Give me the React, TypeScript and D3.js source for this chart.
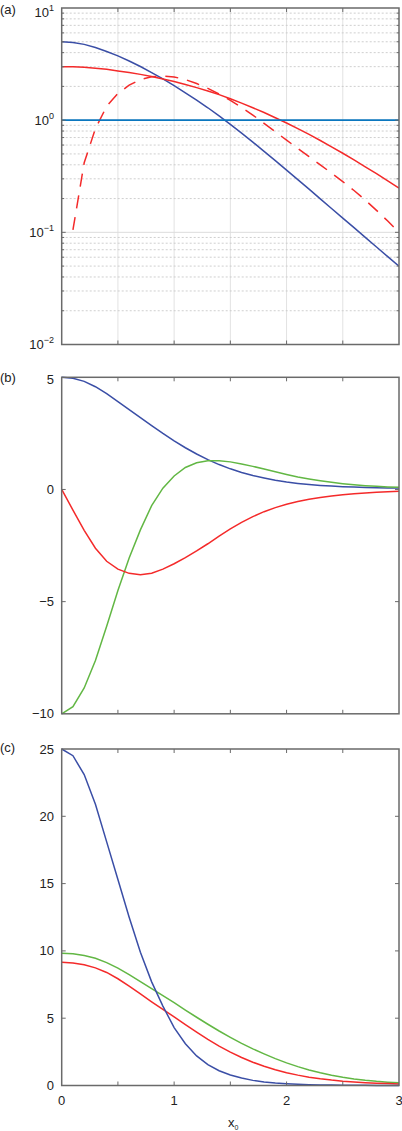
import * as d3 from "d3";

// sample positions along x0 (the curves were computed on a 0.1 grid)
const X_SAMPLES = [
  0, 0.1, 0.2, 0.3, 0.4, 0.5, 0.6, 0.7, 0.8, 0.9, 1.0,
  1.1, 1.2, 1.3, 1.4, 1.5, 1.6, 1.7, 1.8, 1.9, 2.0,
  2.1, 2.2, 2.3, 2.4, 2.5, 2.6, 2.7, 2.8, 2.9, 3.0,
];

// (a) log panel
const A_BLUE = [
  5.0, 4.93, 4.74, 4.45, 4.1, 3.74, 3.37, 3.01, 2.65, 2.33, 2.03,
  1.75, 1.51, 1.29, 1.09, 0.916, 0.766, 0.637, 0.527, 0.436, 0.359,
  0.295, 0.243, 0.199, 0.163, 0.134, 0.11, 0.0902, 0.074, 0.0607, 0.0498,
];
const A_RED = [
  3.0, 2.99, 2.96, 2.91, 2.84, 2.75, 2.66, 2.56, 2.45, 2.33, 2.21,
  2.08, 1.95, 1.82, 1.69, 1.55, 1.42, 1.29, 1.17, 1.05, 0.944,
  0.841, 0.746, 0.659, 0.579, 0.507, 0.442, 0.384, 0.333, 0.288, 0.248,
];
const A_RED_DASHED = [
  null, 0.105, 0.417, 0.841, 1.33, 1.73, 2.05, 2.3, 2.44, 2.48, 2.43,
  2.3, 2.12, 1.92, 1.71, 1.5, 1.3, 1.11, 0.938, 0.789, 0.664,
  0.56, 0.473, 0.4, 0.337, 0.283, 0.236, 0.194, 0.157, 0.126, 0.1,
];
const A_REFERENCE = 1;

// (b)
const B_BLUE = [
  5.0, 4.96, 4.82, 4.58, 4.27, 3.92, 3.56, 3.2, 2.85, 2.5, 2.17,
  1.86, 1.58, 1.33, 1.11, 0.92, 0.76, 0.62, 0.51, 0.41, 0.33,
  0.27, 0.22, 0.18, 0.15, 0.125, 0.105, 0.09, 0.078, 0.068, 0.06,
];
const B_RED = [
  0, -0.92, -1.82, -2.62, -3.2, -3.55, -3.74, -3.8, -3.73, -3.55, -3.31,
  -3.04, -2.74, -2.42, -2.08, -1.76, -1.47, -1.21, -0.99, -0.81, -0.66,
  -0.54, -0.44, -0.36, -0.29, -0.235, -0.19, -0.155, -0.125, -0.1, -0.08,
];
const B_GREEN = [
  -10, -9.68, -8.85, -7.62, -6.1, -4.5, -3.05, -1.8, -0.72, 0.06, 0.6,
  0.98, 1.19, 1.28, 1.28, 1.23, 1.14, 1.03, 0.91, 0.79, 0.67,
  0.56, 0.47, 0.39, 0.32, 0.26, 0.21, 0.17, 0.14, 0.115, 0.095,
];

// (c)
const C_BLUE = [
  25, 24.5, 23.1, 20.9, 18.1, 15.3, 12.5, 9.9, 7.7, 5.9, 4.3,
  3.1, 2.2, 1.55, 1.1, 0.78, 0.55, 0.38, 0.26, 0.18, 0.13,
  0.09, 0.06, 0.04, 0.03, 0.02, 0.015, 0.01, 0.007, 0.005, 0.003,
];
const C_RED = [
  9.15, 9.1, 8.97, 8.74, 8.4, 7.93, 7.38, 6.8, 6.22, 5.66, 5.1,
  4.53, 3.97, 3.43, 2.93, 2.48, 2.08, 1.73, 1.43, 1.17, 0.95,
  0.77, 0.62, 0.5, 0.4, 0.32, 0.26, 0.21, 0.17, 0.14, 0.12,
];
const C_GREEN = [
  9.82, 9.78, 9.66, 9.45, 9.13, 8.72, 8.24, 7.72, 7.2, 6.68, 6.15,
  5.6, 5.07, 4.55, 4.05, 3.58, 3.13, 2.72, 2.35, 2.0, 1.68,
  1.4, 1.15, 0.94, 0.76, 0.61, 0.49, 0.39, 0.31, 0.25, 0.2,
];

const X_TICKS = [0, 0.5, 1, 1.5, 2, 2.5, 3];
const X_LABELS = [0, 1, 2, 3];
const A_DECADES = [-2, -1, 0, 1];
const B_TICKS = [-10, -5, 0, 5];
const C_TICKS = [0, 5, 10, 15, 20, 25];

const BLUE = "#3a4ea6";
const RED = "#f42a2a";
const GREEN = "#62b744";
const REF_BLUE = "#0b77bf";
const FRAME = "#6a6a6a";
const FONT = "'Liberation Sans', Arial, Helvetica, sans-serif";

const W = 402;
const H = 1131;
const left = 61.7;
const right = 399;

const x = d3.scaleLinear().domain([0, 3]).range([left, right]);

const fmt = (v: number) => (v < 0 ? "\u2212" + Math.abs(v) : String(v));

function curve(values: (number | null)[], y: (v: number) => number) {
  const line = d3
    .line<number | null>()
    .defined((d) => d != null)
    .x((_, i) => x(X_SAMPLES[i]))
    .y((d) => y(d as number));
  return line(values) ?? "";
}

function Frame({ top, bottom }: { top: number; bottom: number }) {
  return (
    <g>
      {X_TICKS.slice(1, -1).map((t) => (
        <g key={t} stroke={FRAME} strokeWidth={1}>
          <line x1={x(t)} x2={x(t)} y1={bottom} y2={bottom - 4} />
          <line x1={x(t)} x2={x(t)} y1={top} y2={top + 4} />
        </g>
      ))}
      <rect
        x={left}
        y={top}
        width={right - left}
        height={bottom - top}
        fill="none"
        stroke={FRAME}
        strokeWidth={1.5}
      />
    </g>
  );
}

function PanelLabel({ text, y }: { text: string; y: number }) {
  return (
    <text x={0} y={y} fontSize={13} fontFamily={FONT} fill="#222">
      {text}
    </text>
  );
}

export default function App() {
  // panel (a)
  const aTop = 8;
  const aBottom = 344.5;
  const yA = d3.scaleLog().domain([0.01, 10]).range([aBottom, aTop]);
  const minors: number[] = [];
  A_DECADES.slice(0, -1).forEach((e) => {
    for (let k = 2; k <= 9; k++) minors.push(k * Math.pow(10, e));
  });

  // panel (b)
  const bTop = 377.3;
  const bBottom = 713.8;
  const yB = d3.scaleLinear().domain([-10, 5]).range([bBottom, bTop]);

  // panel (c)
  const cTop = 749;
  const cBottom = 1085.5;
  const yC = d3.scaleLinear().domain([0, 25]).range([cBottom, cTop]);

  return (
    <div style={{ position: "absolute", left: 0, top: 0 }}>
      <svg width={W} height={H} viewBox={`0 0 ${W} ${H}`} style={{ display: "block", background: "#fff" }}>
        <defs>
          <clipPath id="clipA">
            <rect x={left} y={aTop} width={right - left} height={aBottom - aTop} />
          </clipPath>
        </defs>

        {/* ---------- (a) ---------- */}
        <PanelLabel text="(a)" y={14} />
        <g>
          {X_TICKS.slice(1, -1).map((t) => (
            <line key={t} x1={x(t)} x2={x(t)} y1={aTop} y2={aBottom} stroke="#e2e2e2" strokeWidth={1} />
          ))}
          {minors.map((m) => (
            <line
              key={m}
              x1={left}
              x2={right}
              y1={yA(m)}
              y2={yA(m)}
              stroke="#c9c9c9"
              strokeWidth={0.9}
              strokeDasharray="2,2"
            />
          ))}
          {A_DECADES.slice(1, -1).map((e) => (
            <line
              key={e}
              x1={left}
              x2={right}
              y1={yA(Math.pow(10, e))}
              y2={yA(Math.pow(10, e))}
              stroke="#dcdcdc"
              strokeWidth={1}
            />
          ))}
        </g>
        <g clipPath="url(#clipA)" fill="none" strokeWidth={1.5}>
          <path d={curve(A_BLUE, yA)} stroke={BLUE} />
          <path d={curve(A_RED, yA)} stroke={RED} />
          <path d={curve(A_RED_DASHED, yA)} stroke={RED} strokeDasharray="13,9" />
          <line x1={x(0)} x2={x(3)} y1={yA(A_REFERENCE)} y2={yA(A_REFERENCE)} stroke={REF_BLUE} strokeWidth={1.6} />
        </g>
        <g stroke={FRAME} strokeWidth={1}>
          {minors.map((m) => (
            <g key={m}>
              <line x1={left} x2={left + 2.5} y1={yA(m)} y2={yA(m)} />
              <line x1={right} x2={right - 2.5} y1={yA(m)} y2={yA(m)} />
            </g>
          ))}
          {A_DECADES.slice(1, -1).map((e) => (
            <g key={e}>
              <line x1={left} x2={left + 4} y1={yA(Math.pow(10, e))} y2={yA(Math.pow(10, e))} />
              <line x1={right} x2={right - 4} y1={yA(Math.pow(10, e))} y2={yA(Math.pow(10, e))} />
            </g>
          ))}
        </g>
        <Frame top={aTop} bottom={aBottom} />
        {A_DECADES.map((e, i) => (
          <text
            key={e}
            x={54}
            y={yA(Math.pow(10, e)) + (i === A_DECADES.length - 1 ? 8.5 : 4.5)}
            textAnchor="end"
            fontSize={13}
            fontFamily={FONT}
            fill="#222"
          >
            10
            <tspan fontSize={9} dy={-6}>
              {fmt(e)}
            </tspan>
          </text>
        ))}

        {/* ---------- (b) ---------- */}
        <PanelLabel text="(b)" y={382} />
        <g fill="none" strokeWidth={1.5}>
          <path d={curve(B_BLUE, yB)} stroke={BLUE} />
          <path d={curve(B_GREEN, yB)} stroke={GREEN} />
          <path d={curve(B_RED, yB)} stroke={RED} />
        </g>
        <g stroke={FRAME} strokeWidth={1}>
          {B_TICKS.slice(1, -1).map((t) => (
            <g key={t}>
              <line x1={left} x2={left + 4} y1={yB(t)} y2={yB(t)} />
              <line x1={right} x2={right - 4} y1={yB(t)} y2={yB(t)} />
            </g>
          ))}
        </g>
        <Frame top={bTop} bottom={bBottom} />
        {B_TICKS.map((t, i) => (
          <text
            key={t}
            x={54}
            y={yB(t) + (i === B_TICKS.length - 1 ? 6.5 : 4.5)}
            textAnchor="end"
            fontSize={13}
            fontFamily={FONT}
            fill="#222"
          >
            {fmt(t)}
          </text>
        ))}

        {/* ---------- (c) ---------- */}
        <PanelLabel text="(c)" y={752} />
        <g fill="none" strokeWidth={1.5}>
          <path d={curve(C_GREEN, yC)} stroke={GREEN} />
          <path d={curve(C_RED, yC)} stroke={RED} />
          <path d={curve(C_BLUE, yC)} stroke={BLUE} />
        </g>
        <g stroke={FRAME} strokeWidth={1}>
          {C_TICKS.slice(1, -1).map((t) => (
            <g key={t}>
              <line x1={left} x2={left + 4} y1={yC(t)} y2={yC(t)} />
              <line x1={right} x2={right - 4} y1={yC(t)} y2={yC(t)} />
            </g>
          ))}
        </g>
        <Frame top={cTop} bottom={cBottom} />
        {C_TICKS.map((t) => (
          <text key={t} x={54} y={yC(t) + 4.5} textAnchor="end" fontSize={13} fontFamily={FONT} fill="#222">
            {fmt(t)}
          </text>
        ))}
        {X_LABELS.map((t) => (
          <text key={t} x={x(t)} y={1105} textAnchor="middle" fontSize={13} fontFamily={FONT} fill="#222">
            {t}
          </text>
        ))}
        <text x={228} y={1127} fontSize={13} fontFamily={FONT} fill="#222">
          x
          <tspan fontSize={7} dy={2.5}>
            0
          </tspan>
        </text>
      </svg>
    </div>
  );
}
